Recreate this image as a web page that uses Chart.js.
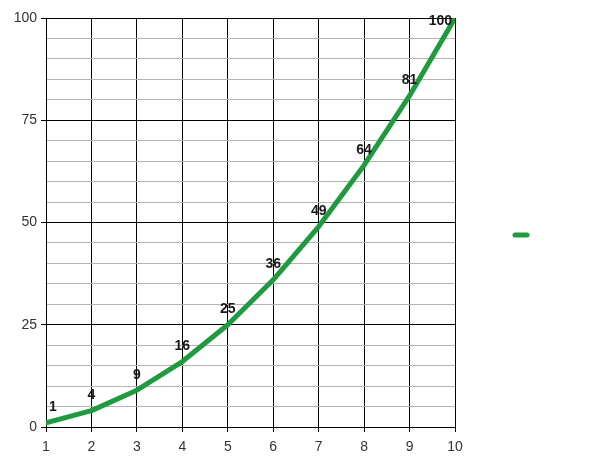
<!DOCTYPE html>
<html>
<head>
<meta charset="utf-8">
<script src="https://cdn.jsdelivr.net/npm/chart.js@4/dist/chart.umd.min.js"></script>
<style>
  html, body { margin: 0; padding: 0; background: #fff; }
  #wrap { width: 600px; height: 463px; }
</style>
</head>
<body>
<div id="wrap"><canvas id="chart" width="600" height="463"></canvas></div>
<script>
// Square numbers 1..10, one green series with value labels.
var xValues = [1, 2, 3, 4, 5, 6, 7, 8, 9, 10];
var yValues = [1, 4, 9, 16, 25, 36, 49, 64, 81, 100];
var lineColor = '#1f9a3f';

// Bold value labels above each point, kept inside the plot area
var valueLabels = {
  id: 'valueLabels',
  afterDatasetsDraw: function (chart) {
    var ctx = chart.ctx, area = chart.chartArea;
    var meta = chart.getDatasetMeta(0);
    ctx.save();
    ctx.font = 'bold 14px "Liberation Sans", Arial, sans-serif';
    ctx.fillStyle = '#1a1a1a';
    ctx.textAlign = 'center';
    ctx.textBaseline = 'middle';
    meta.data.forEach(function (pt, i) {
      var txt = String(yValues[i]);
      var w = ctx.measureText(txt).width;
      var x = Math.min(Math.max(pt.x, area.left + w / 2 + 3), area.right - w / 2 - 3);
      var y = Math.max(pt.y - 15.5, area.top + 3);
      ctx.fillText(txt, x, y);
    });
    ctx.restore();
  }
};

// Legend: just a short line swatch, no text
var swatchLegend = {
  id: 'swatchLegend',
  afterDraw: function (chart) {
    var ctx = chart.ctx;
    ctx.save();
    ctx.strokeStyle = lineColor;
    ctx.lineWidth = 5;
    ctx.lineCap = 'round';
    ctx.beginPath();
    ctx.moveTo(515, 235);
    ctx.lineTo(527, 235);
    ctx.stroke();
    ctx.restore();
  }
};

new Chart(document.getElementById('chart'), {
  type: 'line',
  data: {
    datasets: [{
      data: xValues.map(function (x, i) { return { x: x, y: yValues[i] }; }),
      borderColor: lineColor,
      borderWidth: 5,
      pointRadius: 0,
      tension: 0,
      borderCapStyle: 'round',
      borderJoinStyle: 'round'
    }]
  },
  options: {
    responsive: false,
    animation: false,
    layout: { padding: { left: 0, top: 18, right: 145, bottom: 0 } },
    plugins: { legend: { display: false }, tooltip: { enabled: false } },
    scales: {
      x: {
        type: 'linear',
        min: 1,
        max: 10,
        ticks: {
          stepSize: 1,
          padding: 7,
          color: '#333',
          font: { family: '"Liberation Sans", Arial, sans-serif', size: 14 }
        },
        grid: { color: '#000', lineWidth: 1, tickLength: 5, tickColor: '#000' },
        border: { color: '#000' },
        afterFit: function (s) { s.height = 36; }
      },
      y: {
        min: 0,
        max: 100,
        ticks: {
          stepSize: 5,
          padding: 4,
          color: '#333',
          font: { family: '"Liberation Sans", Arial, sans-serif', size: 14 },
          callback: function (v) { return v % 25 === 0 ? v : ''; }
        },
        grid: {
          color: function (c) { return c.tick && c.tick.value % 25 === 0 ? '#000' : '#b4b4b4'; },
          tickColor: function (c) { return c.tick && c.tick.value % 25 === 0 ? '#000' : 'rgba(0,0,0,0)'; },
          tickLength: 5
        },
        border: { color: '#000' },
        afterFit: function (s) { s.width = 46; }
      }
    }
  },
  plugins: [valueLabels, swatchLegend]
});
</script>
</body>
</html>
